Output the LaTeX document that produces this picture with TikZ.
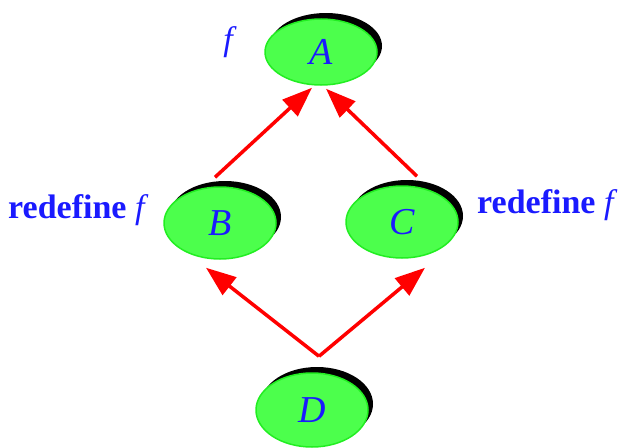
\documentclass[tikz,border=0pt]{standalone}
\usepackage{fontspec}
\setmainfont{Liberation Serif}
\usetikzlibrary{arrows.meta,shapes.geometric,shadows}
\definecolor{ngreen}{HTML}{4CFF4C}
\definecolor{nborder}{HTML}{22EE22}
\definecolor{nblue}{HTML}{1A1AFF}
\begin{document}
\begin{tikzpicture}[x=1pt,y=-1pt,
  bubble/.style={ellipse, minimum width=112pt, minimum height=70pt, inner sep=0pt,
    fill=ngreen, draw=nborder, line width=1.5pt, text=nblue,
    font=\fontsize{38}{40}\selectfont\itshape,
    drop shadow={fill=black, opacity=1, shadow xshift=5pt, shadow yshift=6pt}},
  lbl/.style={text=nblue, inner sep=0pt, font=\fontsize{34}{36}\selectfont},
  arr/.style={draw=red, line width=3.5pt, -{Triangle[length=30pt,width=22pt]}}]
\useasboundingbox (0,0) rectangle (618,447);
\node[bubble, minimum height=66pt] (A) at (321,52) {A};
\node[bubble, minimum height=72pt] (B) at (220,223) {B};
\node[bubble, minimum height=72pt] (C) at (402,222) {C};
\node[bubble, minimum height=74pt] (D) at (312,410) {D};
\coordinate (dtop) at ([shift={(7,-16)}]D.north);
\draw[arr] ([shift={(-5,-9)}]B.north) -- ([shift={(-9,2)}]A.south);
\draw[arr] ([shift={(15,-9)}]C.north) -- ([shift={(5,3)}]A.south);
\draw[arr] (dtop) -- ([shift={(-14,8)}]B.south);
\draw[arr] (dtop) -- ([shift={(23,9)}]C.south);
\node[lbl, anchor=base] (tf) at (228,50) {\itshape f};
\node[lbl, anchor=base west] (lf) at (8,218) {\textbf{redefine} \textit{f}};
\node[lbl, anchor=base west] (rf) at (477,213) {\textbf{redefine} \textit{f}};
\end{tikzpicture}
\end{document}
